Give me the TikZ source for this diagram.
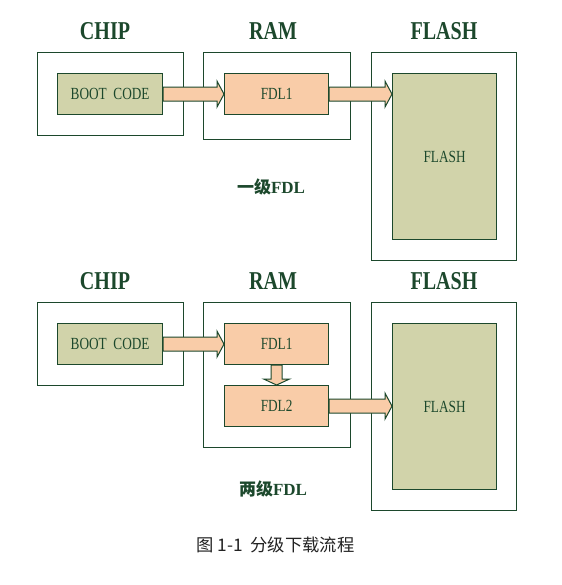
\documentclass[tikz,border=0pt]{standalone}
\usepackage{fontspec}
\setmainfont{Liberation Serif}
\newfontfamily\cjk{Noto Sans CJK SC}
\usetikzlibrary{calc}
\definecolor{lc}{RGB}{28,72,44}
\definecolor{olive}{RGB}{209,211,170}
\definecolor{peach}{RGB}{249,204,168}
\definecolor{capc}{RGB}{34,34,34}
\tikzset{
  outerbox/.style={draw=lc, line width=1.2pt, fill=white, anchor=north west, inner sep=0pt},
  innerbox/.style={draw=lc, line width=1.2pt, anchor=north west, inner sep=0pt, minimum width=104pt, minimum height=41pt, text=lc, font=\fontsize{17}{17}\selectfont},
  oliveb/.style={innerbox, fill=olive},
  peachb/.style={innerbox, fill=peach},
  heading/.style={text=lc, font=\fontsize{25.7}{26}\selectfont\bfseries, inner sep=0pt},
  level/.style={text=lc, font=\fontsize{17}{17}\selectfont\bfseries, inner sep=0pt},
  blockarr/.style={draw=lc, line width=1pt, fill=peach, line join=miter},
}
\newcommand{\nar}[1]{\scalebox{0.78}[1]{#1}}
\begin{document}
\begin{tikzpicture}[x=1pt,y=-1pt]
\useasboundingbox (0,0) rectangle (561,585);
\fill[white] (0,0) rectangle (561,585);
% ---- top ----
\node[heading] (hchipA) at (105,31) {\nar{CHIP}};
\node[heading] (hramA) at (273,31) {\nar{RAM}};
\node[heading] (hflashA) at (444,31) {\nar{FLASH}};
\node[outerbox, minimum width=146pt, minimum height=83pt] (chipA) at (37,52) {};
\node[outerbox, minimum width=147pt, minimum height=87pt] (ramA) at (203,52) {};
\node[outerbox, minimum width=145pt, minimum height=208pt] (flashA) at (371,52) {};
\node[oliveb, minimum width=105pt] (bootA) at (57,73) {\nar{BOOT\ \ CODE}};
\node[peachb] (fdlA) at (224,73) {\nar{FDL1}};
\node[oliveb, minimum height=166pt] (flashinA) at (392,73) {\nar{FLASH}};
\node[level] (lvA) at (271,187) {{\cjk\bfseries 一级}FDL};
\draw[blockarr] let \p1=(bootA.east), \p2=(fdlA.west) in
  (\x1,\y1+7) -- (\x2-7,\y1+7) -- (\x2-7,\y1+13) -- (\x2,\y1) -- (\x2-7,\y1-13) -- (\x2-7,\y1-7) -- (\x1,\y1-7) -- cycle;
\draw[blockarr] let \p1=(fdlA.east), \p2=(flashinA.west) in
  (\x1,\y1+7) -- (\x2-7,\y1+7) -- (\x2-7,\y1+13) -- (\x2,\y1) -- (\x2-7,\y1-13) -- (\x2-7,\y1-7) -- (\x1,\y1-7) -- cycle;
% ---- bottom ----
\node[heading] (hchipB) at (105,281) {\nar{CHIP}};
\node[heading] (hramB) at (273,281) {\nar{RAM}};
\node[heading] (hflashB) at (444,281) {\nar{FLASH}};
\node[outerbox, minimum width=146pt, minimum height=83pt] (chipB) at (37,302) {};
\node[outerbox, minimum width=147pt, minimum height=145pt] (ramB) at (203,302) {};
\node[outerbox, minimum width=145pt, minimum height=208pt] (flashB) at (371,302) {};
\node[oliveb, minimum width=105pt] (bootB) at (57,323) {\nar{BOOT\ \ CODE}};
\node[peachb] (fdlB) at (224,323) {\nar{FDL1}};
\node[peachb] (fdlC) at (224,385) {\nar{FDL2}};
\node[oliveb, minimum height=166pt] (flashinB) at (392,323) {\nar{FLASH}};
\node[level] (lvB) at (273,489) {{\cjk\bfseries 两级}FDL};
\draw[blockarr] let \p1=(bootB.east), \p2=(fdlB.west) in
  (\x1,\y1+7) -- (\x2-7,\y1+7) -- (\x2-7,\y1+13) -- (\x2,\y1) -- (\x2-7,\y1-13) -- (\x2-7,\y1-7) -- (\x1,\y1-7) -- cycle;
\draw[blockarr] let \p1=(fdlC.east), \p2=(flashinB.west) in
  (\x1,\y1+7) -- (\x2-7,\y1+7) -- (\x2-7,\y1+13) -- (\x2,\y1) -- (\x2-7,\y1-13) -- (\x2-7,\y1-7) -- (\x1,\y1-7) -- cycle;
\draw[blockarr] let \p1=(fdlB.south), \p2=(fdlC.north) in
  (\x1-5.5,\y1) -- (\x1-5.5,\y2+6) -- (\x1-13,\y2+6) -- (\x1,\y2) -- (\x1+13,\y2+6) -- (\x1+5.5,\y2+6) -- (\x1+5.5,\y1) -- cycle;
% ---- caption ----
\node[text=capc, font=\cjk\fontsize{17.3}{17.3}\selectfont, inner sep=0pt] (cap) at (275.5,545) {图 1-1\ \ 分级下载流程};
\end{tikzpicture}
\end{document}
